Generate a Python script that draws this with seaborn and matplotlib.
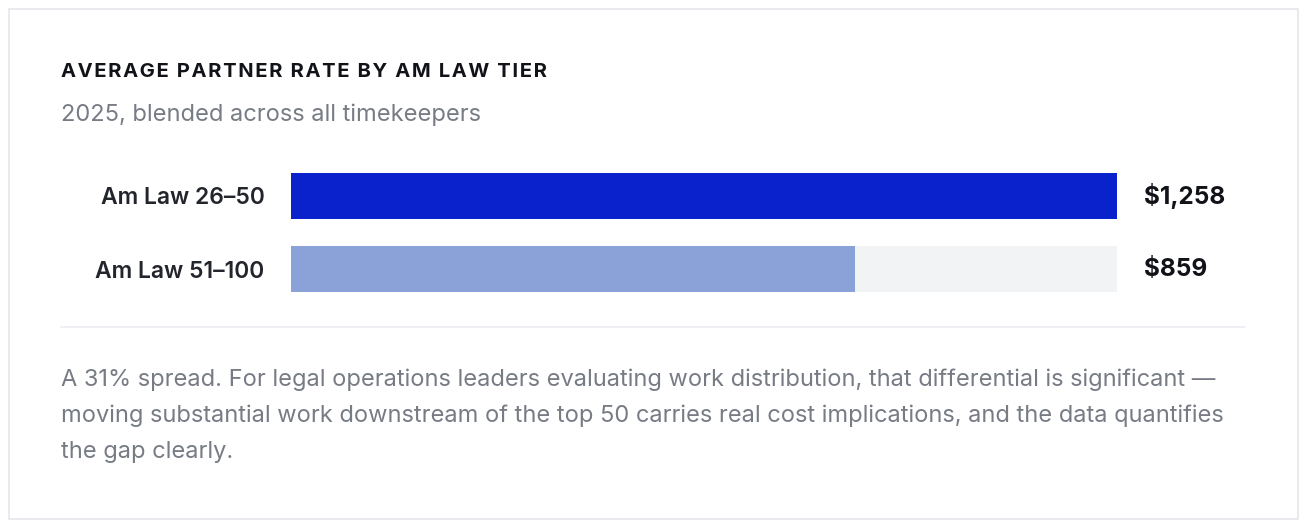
import matplotlib
matplotlib.use("Agg")
import matplotlib.pyplot as plt
import matplotlib.patches as mpatches
import matplotlib.lines as mlines
import matplotlib.transforms as mtrans
import pandas as pd
import seaborn as sns

# 資料
tiers = ["Am Law 26–50", "Am Law 51–100"]
rates = [1258, 859]
rate_labels = ["$1,258", "$859"]
bar_colors = ["#0a22cc", "#8aa2d8"]

title = "AVERAGE PARTNER RATE BY AM LAW TIER"
subtitle = "2025, blended across all timekeepers"
note_lines = [
    "A 31% spread. For legal operations leaders evaluating work distribution, that differential is significant —",
    "moving substantial work downstream of the top 50 carries real cost implications, and the data quantifies",
    "the gap clearly.",
]

W, H = 1308, 528

sns.set_theme(style="white")
plt.rcParams["font.family"] = ["Inter", "DejaVu Sans"]


def fx(px):
    return px / W


def fy(py):
    return 1 - py / H


fig = plt.figure(figsize=(W / 100, H / 100), dpi=100)
fig.patch.set_facecolor("white")

# 卡片外框
card = mpatches.Rectangle((fx(8.5), fy(518.5)), fx(1289), (510) / H,
                          transform=fig.transFigure, facecolor="none",
                          edgecolor="#e4e6ea", linewidth=1.2, zorder=0)
fig.patches.append(card)

# 標題與副標題 (用 hair space 模擬字距)
fig.text(fx(61), fy(72), "\u200a".join(title),
         fontsize=14.5, fontweight="bold", color="#111318", va="center", ha="left")
fig.text(fx(61), fy(115), subtitle, fontsize=17, color="#777b84",
         va="center", ha="left")

# 長條圖
ax = fig.add_axes([fx(291), fy(305.5), fx(1117) - fx(291), (305.5 - 159.5) / H])
ax.set_facecolor("none")
df = pd.DataFrame({"tier": tiers, "rate": rates})
track = pd.DataFrame({"tier": tiers, "rate": [max(rates)] * len(tiers)})

sns.barplot(data=track, x="rate", y="tier", color="#f2f3f5", width=0.64,
            ax=ax, saturation=1, linewidth=0)
sns.barplot(data=df, x="rate", y="tier", hue="tier", palette=bar_colors,
            width=0.64, ax=ax, saturation=1, legend=False, linewidth=0)

ax.set_xlim(0, max(rates))
ax.set_ylim(1.5, -0.5)
ax.set_xlabel("")
ax.set_ylabel("")
ax.set_xticks([])
for s in ax.spines.values():
    s.set_visible(False)
ax.tick_params(axis="y", length=0, pad=19)
for lab in ax.get_yticklabels():
    lab.set_fontsize(16.5)
    lab.set_fontweight("semibold")
    lab.set_color("#22252b")

trans = mtrans.blended_transform_factory(ax.transAxes, ax.transData)
for i, txt in enumerate(rate_labels):
    ax.text((1144 - 291) / 826, i, txt, transform=trans, fontsize=17.5,
            fontweight="bold", color="#111318", va="center", ha="left")

# 分隔線
fig.lines.append(mlines.Line2D([fx(61), fx(1245)], [fy(327), fy(327)],
                               transform=fig.transFigure, color="#eceef1",
                               linewidth=1.2))

# 說明文字
for i, line in enumerate(note_lines):
    fig.text(fx(61), fy(380 + i * 36), line, fontsize=17, color="#777b84",
             va="center", ha="left")

fig.savefig("out.png", dpi=100, facecolor=fig.get_facecolor())
